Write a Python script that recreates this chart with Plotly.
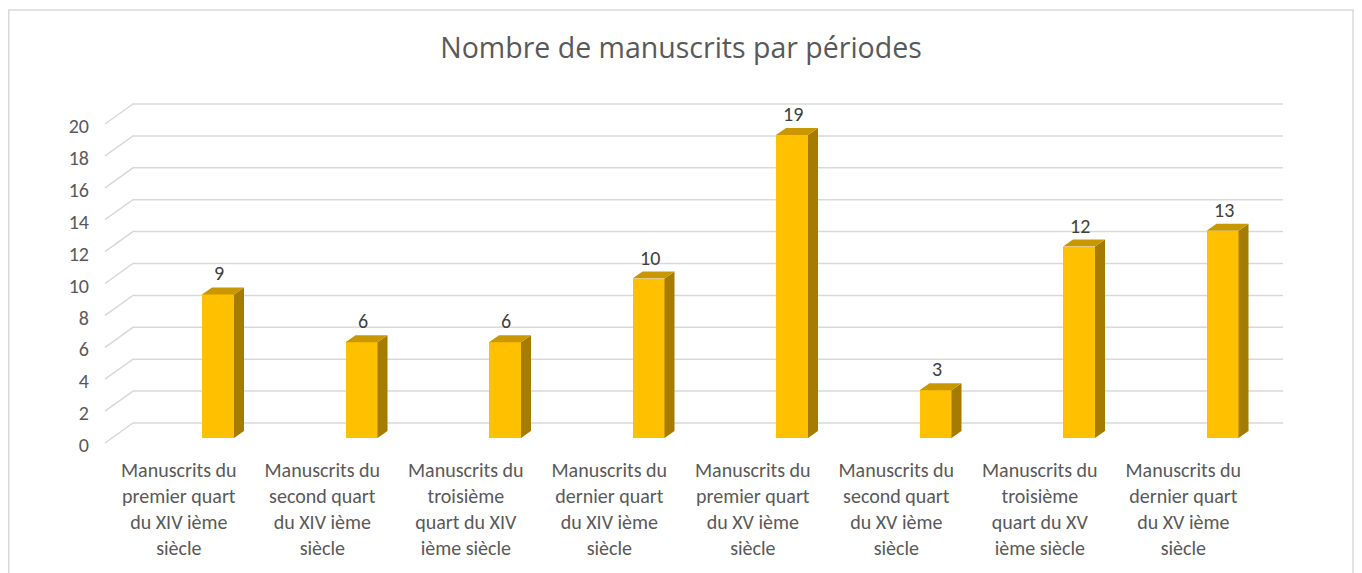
import plotly.graph_objects as go

# ---- data ----
categories = [
    "Manuscrits du<br>premier quart<br>du XIV ième<br>siècle",
    "Manuscrits du<br>second quart<br>du XIV ième<br>siècle",
    "Manuscrits du<br>troisième<br>quart du XIV<br>ième siècle",
    "Manuscrits du<br>dernier quart<br>du XIV ième<br>siècle",
    "Manuscrits du<br>premier quart<br>du XV ième<br>siècle",
    "Manuscrits du<br>second quart<br>du XV ième<br>siècle",
    "Manuscrits du<br>troisième<br>quart du XV<br>ième siècle",
    "Manuscrits du<br>dernier quart<br>du XV ième<br>siècle",
]
values = [9, 6, 6, 10, 19, 3, 12, 13]
y_ticks = [0, 2, 4, 6, 8, 10, 12, 14, 16, 18, 20]
title_text = "Nombre de manuscrits par périodes"

# ---- layout geometry (figure pixels; page body adds an 8px offset) ----
OFF = 8
W, H = 1362 - OFF, 573 - OFF
ML, MR, MT, MB = 100 - OFF, 62, 0, 118
PW, PH = W - ML - MR, H - MT - MB
XPX = 143.5          # px per category
YPX = 15.95          # px per unit
X0PX = 218 - OFF     # pixel of first bar centre
Y0PX = 438 - OFF     # pixel of value 0 on bar plane
xmin = -(X0PX - ML) / XPX
xmax = xmin + PW / XPX
ymin = -(MT + PH - Y0PX) / YPX
ymax = ymin + PH / YPX

FONT = "Calibri, Carlito, Lato, sans-serif"
TFONT = "Open Sans"
FRONT = "#FFC000"
SIDE = "#A67C00"
TOP = "#C99800"
GRID = "#D9D9D9"

bar_w = 32 / XPX
dx = 10 / XPX
dy = 7 / YPX

xs = list(range(len(categories)))

fig = go.Figure()
fig.add_trace(go.Bar(x=xs, y=values, width=bar_w, marker=dict(color=FRONT, line=dict(width=0)),
                     hoverinfo="skip", showlegend=False))

shapes = []
# back-wall gridlines with perspective stubs
back_off = 15 / YPX
front_off = back_off - 20 / YPX
stub_x0 = (105 - 218) / XPX
stub_x1 = (133 - 218) / XPX
grid_end = (1283 - 218) / XPX
for v in y_ticks:
    yb = v + back_off
    yf = v + front_off
    shapes.append(dict(type="path", xref="x", yref="y", layer="below",
                       path=f"M {stub_x0},{yf} L {stub_x1},{yb} L {grid_end},{yb}",
                       line=dict(color=GRID, width=1.5)))

# 3D side and top faces of each bar
for x, v in zip(xs, values):
    r = x + bar_w / 2
    l = x - bar_w / 2
    shapes.append(dict(type="path", xref="x", yref="y", layer="above",
                       path=f"M {r},0 L {r+dx},{dy} L {r+dx},{v+dy} L {r},{v} Z",
                       fillcolor=SIDE, line=dict(width=0)))
    shapes.append(dict(type="path", xref="x", yref="y", layer="above",
                       path=f"M {l},{v} L {r},{v} L {r+dx},{v+dy} L {l+dx},{v+dy} Z",
                       fillcolor=TOP, line=dict(width=0)))

# outer frame
def px_to_paper_x(px):
    return (px - ML) / PW

def px_to_paper_y(py):
    return (MT + PH - py) / PH

shapes.append(dict(type="rect", xref="paper", yref="paper",
                   x0=px_to_paper_x(0.75), x1=px_to_paper_x(1353 - OFF),
                   y0=px_to_paper_y(600), y1=px_to_paper_y(10 - OFF),
                   line=dict(color=GRID, width=1.5), fillcolor="rgba(0,0,0,0)", layer="below"))

annotations = []
for x, v in zip(xs, values):
    annotations.append(dict(x=x + 0.01, y=v, xref="x", yref="y", text=str(v), showarrow=False,
                            yshift=21, yanchor="middle",
                            font=dict(family=FONT, size=20, color="#404040")))

fig.update_layout(
    width=W, height=H,
    margin=dict(l=ML, r=MR, t=MT, b=MB),
    paper_bgcolor="white", plot_bgcolor="white",
    title=dict(text=title_text, x=px_to_paper_x(681 - OFF), xref="paper", xanchor="center",
               y=1 - (48 - OFF) / H, yanchor="middle",
               font=dict(family=TFONT, size=28.5, color="#595959")),
    xaxis=dict(range=[xmin, xmax], showgrid=False, zeroline=False, showline=False,
               tickvals=[x - 0.273 for x in xs], ticktext=categories, ticks="",
               ticklabelstandoff=1,
               tickfont=dict(family=FONT, size=20, color="#595959"), fixedrange=True),
    yaxis=dict(range=[ymin, ymax], showgrid=False, zeroline=False, showline=False,
               tickvals=[v - 0.45 for v in y_ticks], ticktext=[str(v) for v in y_ticks],
               ticks="", ticklabelstandoff=10,
               tickfont=dict(family=FONT, size=20, color="#595959"), fixedrange=True),
    shapes=shapes,
    annotations=annotations,
    bargap=0,
)

fig.write_html("out.html")
